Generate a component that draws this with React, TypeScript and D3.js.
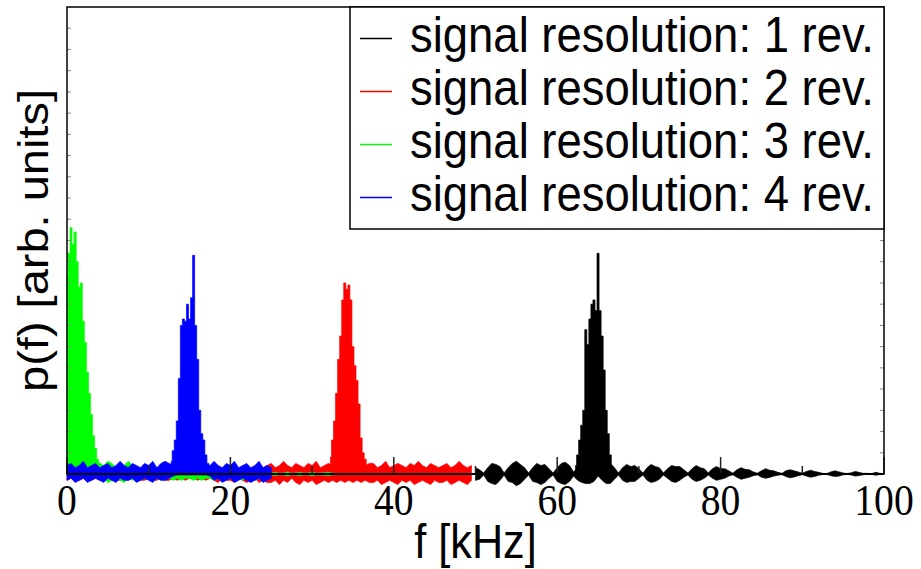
import React from "react";
import * as d3 from "d3";

// ---- data (p(f) in arbitrary units, x in kHz) ----
const X_TICKS = [0, 20, 40, 60, 80, 100];
const X_MINOR = [10, 30, 50, 70, 90];
const LEGEND = [
  "signal resolution: 1 rev.",
  "signal resolution: 2 rev.",
  "signal resolution: 3 rev.",
  "signal resolution: 4 rev.",
];
const COLORS = ["#000000", "#ff0000", "#00ff00", "#0000ff"];

// noise bands, sampled every 0.5 kHz
const NOISE_STEP = 0.5;
const PEAK_STEP = 0.25;

const blackNoiseStart = 50;
const blackHi = [
  3, 2, 0.5, 3, 5, 4.5, 3.5, 0.5, 3, 5,
  6, 4.5, 3, 0.5, 3, 5, 4, 4.5, 2.5, 0.5,
  3, 5, 5.5, 4, 1, 3, 4, 5, 5, 4,
  1, 3, 5, 5, 3, 0.5, 3, 4.5, 3.5, 4,
  2.5, 0.5, 3, 4.5, 3.5, 3, 0.5, 2.5, 4, 3.5,
  3.5, 2, 0.5, 2.5, 4, 3, 2.5, 0.5, 2.5, 3.5,
  2.5, 2.5, 1.5, 0.4, 2, 3, 2.2, 2, 1, 0.4,
  1.5, 2.5, 1.8, 1.5, 0.8, 0.3, 1.5, 2, 1.5, 1,
  0.3, 1.2, 1.8, 1.2, 0.8, 0.3, 0.2, 1, 1.5, 1,
  0.5, 0.2, 0.6, 1.2, 0.7, 0.3, 0.3, 0.2, 0.8, 0.3,
  0.2,
];
const blackLo = [
  -3, -2.5, -0.5, -3.5, -4.5, -5, -3, -0.5, -3.5, -4,
  -5.5, -4.5, -2.5, -0.5, -3.5, -4, -5, -4, -2, -0.5,
  -3.5, -4.5, -5, -3.5, -1, -3, -4, -4.5, -4.5, -3.5,
  -1, -3, -4.5, -4.5, -2.5, -0.5, -3, -4, -3.5, -3.5,
  -2, -0.5, -3, -4, -3.5, -2.5, -0.5, -2, -3.5, -4,
  -3, -1.5, -0.5, -2.5, -3.5, -3, -2, -0.5, -2, -3,
  -2.5, -2, -1, -0.4, -1.5, -2.5, -2, -1.5, -0.8, -0.4,
  -1.5, -2, -1.6, -1, -0.6, -0.3, -1.2, -1.8, -1.4, -0.8,
  -0.3, -1, -1.5, -1.2, -0.6, -0.2, -0.2, -0.8, -1.2, -1,
  -0.4, -0.2, -0.5, -1, -0.7, -0.3, -0.2, -0.2, -0.6, -0.2,
  -0.2,
];

const redNoiseStart = 0;
const redHi = [
  2, 3, 2, 2, 3, 2, 3, 2, 2, 3, 2, 3, 2, 2, 3, 2, 3, 2, 2, 3, 2, 3, 2, 2, 3, 2,
  3, 2, 3, 2, 3, 2, 3, 2, 3, 2,
  2, 3, 2, 3, 2, 2, 3, 2, 3, 2, 3, 2, 3, 4,
  5, 3, 4, 6, 4, 3, 5, 4, 3, 5, 4, 6, 3, 4, 5,
  4, 5, 4, 5, 4, 5, 4, 5, 4, 5,
  5, 3, 4, 6, 3, 4, 5, 4, 3, 5, 4, 6, 4, 3, 5, 4, 3, 4, 5, 3, 4, 6, 4, 3, 4,
];
const redLo = [
  -3, -2, -3, -3, -2, -3, -3, -2, -3, -3, -2, -3, -3, -3, -2, -3, -2, -3, -3, -3, -2, -3, -3, -2, -3, -3,
  -2, -3, -2, -3, -2, -2, -3, -2, -3, -2,
  -3, -4, -2, -3, -3, -4, -2, -3, -4, -3, -2, -4, -3, -4,
  -4, -3, -5, -3, -4, -2, -4, -5, -3, -4, -3, -5, -4, -3, -4,
  -3, -4, -3, -4, -3, -4, -3, -4, -3, -4,
  -4, -3, -5, -4, -3, -4, -5, -3, -4, -3, -5, -4, -3, -4, -5, -3, -4, -4, -3, -5, -4, -3, -4, -5, -3,
];

const greenNoiseStart = 4;
const greenHi = [
  5, 4, 6, 5, 3, 5, 4, 6, 4,
  3, 2, 3, 2, 2, 3, 2, 3, 2, 2, 3, 2, 3, 2, 2, 3, 2, 3, 2, 2, 3, 2, 3, 2, 2, 3, 2, 3, 2, 2, 3, 2, 3,
  0.5, 0.8, 0.4, 0.5, 0.9, 0.4, 0.5, 0.8, 0.4, 0.5, 0.9, 0.4, 0.5, 0.6, 0.8, 0.4, 0.3,
];
const greenLo = [
  -3, -2, -4, -3, -2, -3, -4, -2, -3,
  -2, -3, -2, -2, -3, -2, -3, -2, -2, -3, -2, -3, -2, -2, -3, -2, -3, -2, -2, -3, -2, -3, -2, -2, -3, -2, -3, -2, -2, -3, -2, -3, -2,
  -0.5, -0.8, -0.4, -0.5, -0.9, -0.4, -0.5, -0.8, -0.4, -0.5, -0.9, -0.4, -0.5, -0.6, -0.8, -0.4, -0.3,
];

const blueNoiseStart = 0;
const blueHi = [
  4, 5, 3, 4, 6, 3, 4, 5, 3, 4, 5, 3, 4, 6, 4, 3, 5, 4, 3, 5, 4, 6, 3, 5, 6, 5,
  4, 4, 4, 4, 4, 4, 4, 4, 4, 4,
  6, 4, 3, 5, 4, 6, 3, 4, 5, 3, 4, 6, 3, 4, 3,
];
const blueLo = [
  -3, -2, -4, -3, -2, -4, -3, -2, -3, -4, -2, -3, -4, -2, -3, -3, -2, -4, -3, -2, -3, -4, -2, -3, -3, -2,
  -1, -0.5, -0.5, -0.5, -0.5, -0.5, -0.5, -0.5, -0.5, -1,
  -3, -2, -4, -3, -2, -4, -3, -2, -3, -4, -3, -2, -4, -3, -2,
];

// resonance peaks, sampled every 0.25 kHz
const blackPeakStart = 62.25;
const blackPeak = [4, 9, 16, 23, 30, 68, 61, 73, 80, 82, 77, 104, 77, 65, 49, 30, 19, 9, 3];
const redPeakStart = 32.25;
const redPeak = [8, 16, 25, 38, 54, 65, 82, 90, 87, 89, 82, 60, 51, 44, 33, 17, 10, 7, 3];
const greenPeakStart = 0;
const greenPeak = [93, 104, 116, 108, 114, 100, 88, 90, 72, 62, 48, 38, 28, 18, 12, 7, 5, 3, 2];
const bluePeakStart = 12.75;
const bluePeak = [6, 11, 16, 25, 45, 70, 73, 72, 80, 73, 83, 103, 70, 54, 30, 19, 16, 9, 5, 2];

const SERIES = [
  { noiseStart: blackNoiseStart, hi: blackHi, lo: blackLo, peakStart: blackPeakStart, peak: blackPeak },
  { noiseStart: redNoiseStart, hi: redHi, lo: redLo, peakStart: redPeakStart, peak: redPeak },
  { noiseStart: greenNoiseStart, hi: greenHi, lo: greenLo, peakStart: greenPeakStart, peak: greenPeak },
  { noiseStart: blueNoiseStart, hi: blueHi, lo: blueLo, peakStart: bluePeakStart, peak: bluePeak },
];

const W = 921;
const H = 569;
const PL = 67, PR = 884, PT = 7, PB = 474;
const SANS = "'Liberation Sans', Arial, Helvetica, sans-serif";
const SERIF = "'Liberation Serif', 'Times New Roman', serif";

export default function App() {
  const x = d3.scaleLinear().domain([0, 100]).range([PL, PR]);
  const y = d3.scaleLinear().domain([0, 220]).range([PB, PT]);
  const yTicks = d3.range(10, 220, 10);

  return (
    <svg
      width={W}
      height={H}
      style={{ position: "absolute", left: 0, top: 0, display: "block", background: "#fff" }}
    >
      <rect x={0} y={0} width={W} height={H} fill="#fff" />
      {SERIES.map((s, k) => {
        const noise = d3
          .area<number>()
          .x((_, i) => x(s.noiseStart + NOISE_STEP * i))
          .y0((_, i) => y(s.lo[i]))
          .y1((d) => y(d));
        const peak = d3
          .area<number>()
          .x((_, i) => x(s.peakStart + PEAK_STEP * i))
          .y0(y(0))
          .y1((d) => y(d))
          .curve(d3.curveStep);
        return (
          <g key={k}>
            <path d={noise(s.hi) || ""} fill={COLORS[k]} stroke={COLORS[k]} strokeWidth={0.7} />
            <path d={peak(s.peak) || ""} fill={COLORS[k]} stroke={COLORS[k]} strokeWidth={0.7} />
          </g>
        );
      })}

      {/* y minor ticks */}
      {yTicks.map((t) => (
        <g key={"yt" + t}>
          <line x1={PL} x2={PL + 4} y1={y(t)} y2={y(t)} stroke="#888" strokeWidth={1} />
          <line x1={PR} x2={PR - 4} y1={y(t)} y2={y(t)} stroke="#888" strokeWidth={1} />
        </g>
      ))}
      {/* x ticks */}
      {X_TICKS.map((t) => (
        <line key={"xt" + t} x1={x(t)} x2={x(t)} y1={PB} y2={PB - 17} stroke="#222" strokeWidth={1.5} />
      ))}
      {X_MINOR.map((t) => (
        <line key={"xm" + t} x1={x(t)} x2={x(t)} y1={PB} y2={PB - 8} stroke="#222" strokeWidth={1.5} />
      ))}

      {/* frame */}
      <rect x={PL} y={PT} width={PR - PL} height={PB - PT} fill="none" stroke="#000" strokeWidth={1.5} />
      <line x1={PL} x2={PR} y1={PB} y2={PB} stroke="#000" strokeWidth={2.2} />

      {/* x tick labels */}
      {X_TICKS.map((t) => (
        <g key={"xl" + t} transform={`translate(${x(t)},515) scale(0.9,1)`}>
          <text textAnchor="middle" fontFamily={SERIF} fontSize={44} fill="#000">
            {t}
          </text>
        </g>
      ))}

      {/* axis titles */}
      <g transform={`translate(${(PL + PR) / 2},558) scale(0.9,1)`}>
        <text textAnchor="middle" fontFamily={SANS} fontSize={48} fill="#000">
          f [kHz]
        </text>
      </g>
      <g transform={`translate(48,${(PT + PB) / 2}) rotate(-90) scale(1,0.92)`}>
        <text textAnchor="middle" fontFamily={SANS} fontSize={47} fill="#000">
          p(f) [arb. units]
        </text>
      </g>

      {/* legend */}
      <rect x={350} y={PT} width={PR - 350} height={222} fill="#fff" stroke="#000" strokeWidth={1.5} />
      {LEGEND.map((name, i) => {
        const base = 51.5 + i * 53;
        return (
          <g key={name}>
            <line x1={360} x2={392} y1={base - 13} y2={base - 13} stroke={COLORS[i]} strokeWidth={1.5} />
            <g transform={`translate(410,${base}) scale(0.9,1)`}>
              <text fontFamily={SANS} fontSize={50.5} fill="#000">
                {name}
              </text>
            </g>
          </g>
        );
      })}
    </svg>
  );
}
